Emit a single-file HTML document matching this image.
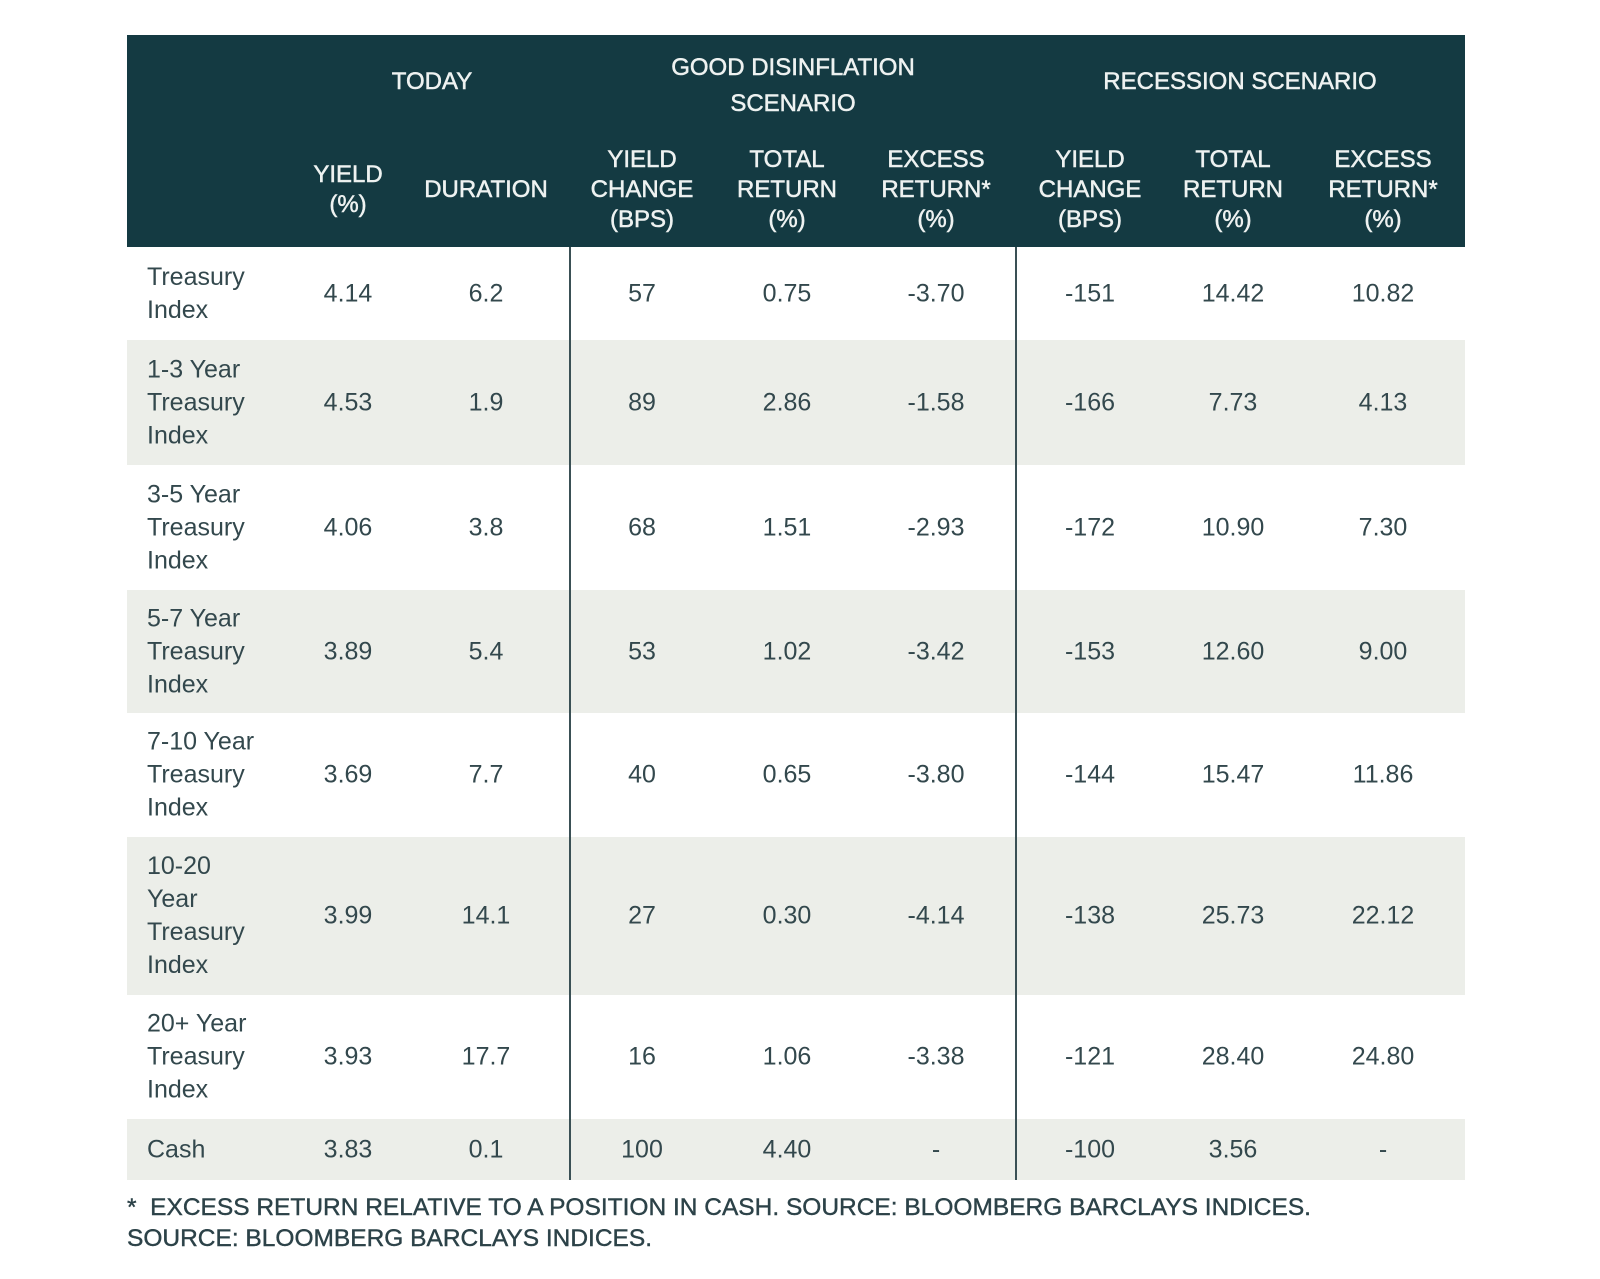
<!DOCTYPE html>
<html><head><meta charset="utf-8"><style>
body{margin:0;width:1600px;height:1279px;background:#fff;position:relative;overflow:hidden;font-family:"Liberation Sans",sans-serif;}
.abs{position:absolute}
#hdr{left:127px;top:35px;width:1338px;height:212px;background:#143a42;}
.h{position:absolute;color:#eef2f1;font-size:24px;text-align:center;line-height:30px;transform:translateX(-50%);white-space:nowrap;-webkit-text-stroke:0.5px #eef2f1}
.row{position:absolute;left:127px;width:1338px}
.c{position:absolute;color:#33484d;font-size:25px;transform:translate(-50%,-50%);white-space:nowrap}
.lbl{position:absolute;left:20px;color:#33484d;font-size:25px;line-height:33px;transform:translateY(-50%)}
.vl{position:absolute;width:2px;background:#3a5055;top:247px;height:933px}
.fn{position:absolute;left:127px;color:#2c4248;font-size:24.5px;white-space:nowrap;-webkit-text-stroke:0.4px #2c4248}
</style></head><body>
<div id="hdr" class="abs">
 <div class="h" style="left:305px;top:32px">TODAY</div>
 <div class="h" style="left:666px;top:15px;line-height:36px">GOOD DISINFLATION<br>SCENARIO</div>
 <div class="h" style="left:1113px;top:32px">RECESSION SCENARIO</div>
 <div class="h" style="left:221px;top:125px">YIELD<br>(%)</div>
 <div class="h" style="left:359px;top:140px">DURATION</div>
 <div class="h" style="left:515px;top:110px">YIELD<br>CHANGE<br>(BPS)</div>
 <div class="h" style="left:660px;top:110px">TOTAL<br>RETURN<br>(%)</div>
 <div class="h" style="left:809px;top:110px">EXCESS<br>RETURN*<br>(%)</div>
 <div class="h" style="left:963px;top:110px">YIELD<br>CHANGE<br>(BPS)</div>
 <div class="h" style="left:1106px;top:110px">TOTAL<br>RETURN<br>(%)</div>
 <div class="h" style="left:1256px;top:110px">EXCESS<br>RETURN*<br>(%)</div>
</div>
<div id="body"></div>
<div class="vl" style="left:569px"></div>
<div class="vl" style="left:1015px"></div>
<div class="fn" style="top:1194px">*&nbsp; EXCESS RETURN RELATIVE TO A POSITION IN CASH. SOURCE: BLOOMBERG BARCLAYS INDICES.</div>
<div class="fn" style="top:1225px">SOURCE: BLOOMBERG BARCLAYS INDICES.</div>
<script>
const labels=["Treasury<br>Index","1-3 Year<br>Treasury<br>Index","3-5 Year<br>Treasury<br>Index","5-7 Year<br>Treasury<br>Index","7-10 Year<br>Treasury<br>Index","10-20<br>Year<br>Treasury<br>Index","20+ Year<br>Treasury<br>Index","Cash"];
const yields=["4.14","4.53","4.06","3.89","3.69","3.99","3.93","3.83"];
const durations=["6.2","1.9","3.8","5.4","7.7","14.1","17.7","0.1"];
const gdYieldChange=["57","89","68","53","40","27","16","100"];
const gdTotalReturn=["0.75","2.86","1.51","1.02","0.65","0.30","1.06","4.40"];
const gdExcessReturn=["-3.70","-1.58","-2.93","-3.42","-3.80","-4.14","-3.38","-"];
const recYieldChange=["-151","-166","-172","-153","-144","-138","-121","-100"];
const recTotalReturn=["14.42","7.73","10.90","12.60","15.47","25.73","28.40","3.56"];
const recExcessReturn=["10.82","4.13","7.30","9.00","11.86","22.12","24.80","-"];
const rowBounds=[247,340,465,590,713,837,995,1119,1180];
const colX=[221,359,515,660,809,963,1106,1256];
const colNames=["yield","duration","gd-yield-change","gd-total-return","gd-excess-return","rec-yield-change","rec-total-return","rec-excess-return"];
const cols=[yields,durations,gdYieldChange,gdTotalReturn,gdExcessReturn,recYieldChange,recTotalReturn,recExcessReturn];
const body=document.getElementById('body');
for(let i=0;i<labels.length;i++){
 const r=document.createElement('div');
 r.className='row';
 
 
 const top=rowBounds[i],h=rowBounds[i+1]-rowBounds[i];
 r.style.top=top+'px';r.style.height=h+'px';
 r.style.background=i%2?'#eceee9':'#fff';
 const mid=h/2;
 const l=document.createElement('div');
 l.className='lbl';l.style.top=mid+'px';l.innerHTML=labels[i];
 
 
 r.appendChild(l);
 for(let j=0;j<cols.length;j++){
  const c=document.createElement('div');
  c.className='c';c.style.left=colX[j]+'px';c.style.top=mid+'px';
  c.textContent=cols[j][i];
  
  
  r.appendChild(c);
 }
 body.appendChild(r);
}
</script>
</body></html>
